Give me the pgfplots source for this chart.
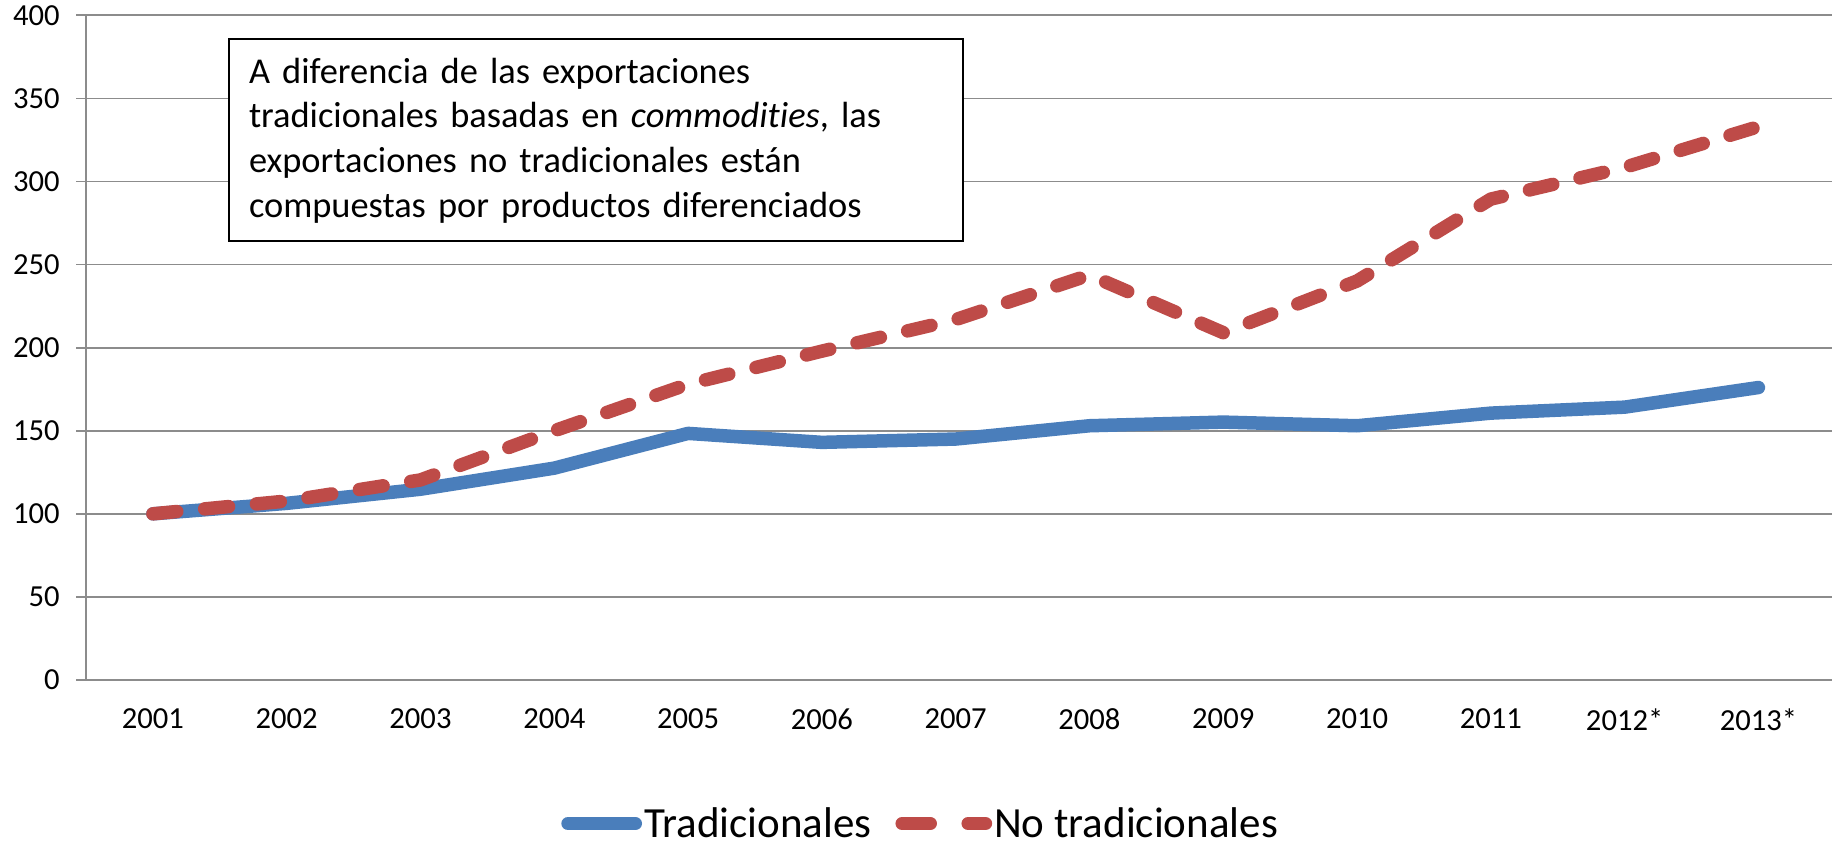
\documentclass[border=0pt]{standalone}
\usepackage{fontspec}
\setmainfont{Carlito}[Ligatures={NoCommon}]
\usepackage{pgfplots}
\pgfplotsset{compat=1.18}
\definecolor{blueline}{HTML}{4A7EBB}
\definecolor{redline}{HTML}{BE4B48}
\definecolor{gridgray}{HTML}{8C8C8C}
\pgfplotsset{
  blueleg/.style={legend image code/.code={\draw[##1] (3.4pt,0pt) -- (37pt,0pt);}},
  redleg/.style={legend image code/.code={\draw[##1, dash pattern=on 14pt off 19pt] (3.4pt,0pt) -- (45pt,0pt);}},
}
\begin{document}
\begin{tikzpicture}
\begin{axis}[
  at={(43pt,83.5pt)}, anchor=south west,
  scale only axis, width=873pt, height=332.35pt,
  xmin=-0.5, xmax=12.55, ymin=0, ymax=400,
  ytick={0,50,...,400},
  xtick={0,...,12},
  xticklabels={2001,2002,2003,2004,2005,2006,2007,2008,2009,2010,2011,2012*,2013*},
  axis lines*=left,
  axis line style={draw=gridgray, line width=0.85pt, -},
  ymajorgrids,
  grid style={draw=gridgray, line width=0.85pt},
  tick align=outside,
  major tick length=5pt,
  ytick style={draw=gridgray, line width=0.85pt},
  xtick style={draw=none},
  /pgf/number format/assume math mode=true,
  tick label style={font=\fontsize{15.3}{18}\selectfont, text=black},
  yticklabel style={anchor=east, inner sep=0pt, xshift=-8pt},
  xticklabel style={anchor=north, inner sep=0pt, yshift=-9pt},
  legend columns=2,
  legend style={at={(0.272,-0.216)}, anchor=west, draw=none, fill=none,
    font=\fontsize{21.5}{25}\selectfont, inner sep=0pt,
    /tikz/every even column/.style={column sep=11pt},
    nodes={inner sep=1pt}},
]
\addplot[blueline, line width=6.75pt, line join=round, line cap=round, blueleg] coordinates {
(0,100) (1,106.3) (2,114.8) (3,127.5) (4,148.4) (5,143) (6,145) (7,153) (8,155.2) (9,153) (10,160.6) (11,164.2) (12,176)
};
\addlegendentry{Tradicionales}
\addplot[redline, line width=6.75pt, line join=round, line cap=round, dash pattern=on 12pt off 14pt, redleg] coordinates {
(0,100) (1,107.7) (2,120.4) (3,150) (4,178) (5,197.9) (6,216.9) (7,243.7) (8,209) (9,240.1) (10,289.4) (11,308.5) (12,333)
};
\addlegendentry{No tradicionales}
\end{axis}
\node[draw=black, line width=1pt, fill=white, anchor=north west, text width=347pt, inner xsep=10pt, minimum height=101pt, align=left,
  font=\fontsize{18.2}{22.35}\selectfont] at (114pt,404.25pt)
  {A diferencia de las exportaciones\\ tradicionales basadas en \textit{commodities}, las\\ exportaciones no tradicionales están\\ compuestas por productos diferenciados};
\pgfresetboundingbox
\path[use as bounding box] (0,0) rectangle (916pt,423.5pt);
\end{tikzpicture}
\end{document}
